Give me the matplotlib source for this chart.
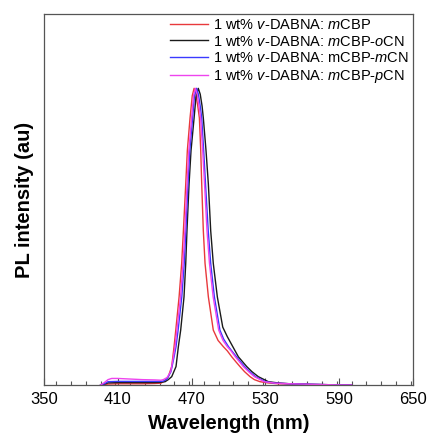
import matplotlib
matplotlib.use('Agg')
import matplotlib.pyplot as plt
from matplotlib.ticker import MultipleLocator

plt.rcParams['font.family'] = ['Liberation Sans', 'DejaVu Sans']
plt.rcParams['mathtext.fontset'] = 'custom'
plt.rcParams['mathtext.rm'] = 'Liberation Sans'
plt.rcParams['mathtext.it'] = 'Liberation Sans:italic'
plt.rcParams['mathtext.bf'] = 'Liberation Sans:bold'

# mCBP (red)
wl_mcbp = [396, 399, 402, 410, 420, 430, 440, 445, 447, 449, 451, 453.8, 455.7, 457.1,
           459.8, 461.9, 463.3, 465.2, 466.5, 468.7, 470.5, 472, 473.5, 475, 476.3,
           477.4, 478.2, 479.5, 480.9, 483.6, 487.6, 491.5, 495.8, 499, 502.6, 506,
           509.3, 513, 517.5, 521, 525.6, 532, 540, 550, 560, 570, 580, 590, 600]
pl_mcbp = [0.0, 0.001, 0.003, 0.004, 0.004, 0.004, 0.005, 0.006, 0.011, 0.018, 0.028,
           0.062, 0.129, 0.185, 0.297, 0.41, 0.52, 0.677, 0.79, 0.9, 0.975, 1.0, 0.98,
           0.94, 0.9, 0.79, 0.677, 0.52, 0.41, 0.297, 0.185, 0.15, 0.129, 0.115, 0.095,
           0.078, 0.062, 0.045, 0.028, 0.018, 0.011, 0.007, 0.004, 0.003, 0.002, 0.001,
           0.001, 0.0, 0.0]

# mCBP-oCN (black)
wl_ocn = [396, 399, 402, 410, 420, 430, 440, 445, 448.4, 451, 453.8, 457.3, 459.2,
          461.1, 463.8, 465.2, 466.2, 467.9, 469.5, 472, 473.5, 475.4, 477, 478.5,
          479.5, 481.7, 483.6, 485.5, 487.6, 490.9, 495.3, 499, 503.5, 508, 514.8,
          519, 524.2, 532.4, 540, 550, 560, 570, 580, 590, 600]
pl_ocn = [0.0, 0.003, 0.007, 0.008, 0.008, 0.008, 0.008, 0.009, 0.011, 0.018, 0.028,
          0.062, 0.129, 0.185, 0.297, 0.41, 0.52, 0.677, 0.79, 0.9, 0.97, 1.0, 0.98,
          0.94, 0.9, 0.79, 0.677, 0.52, 0.41, 0.297, 0.195, 0.163, 0.129, 0.095, 0.062,
          0.045, 0.028, 0.011, 0.007, 0.004, 0.003, 0.002, 0.001, 0.0, 0.0]

# mCBP-mCN (blue)
wl_mcn = [396, 399, 402, 410, 420, 430, 440, 445, 447, 450, 453.2, 455.5, 457.3, 459,
          462, 464, 465.3, 467, 468.5, 470.8, 472.3, 474, 475.5, 477, 478.2, 479.8,
          481.3, 483.5, 485.5, 488.5, 493, 496, 500, 503, 506.5, 513, 518, 522, 530,
          538, 550, 560, 570, 580, 590, 600]
pl_mcn = [0.0, 0.004, 0.011, 0.012, 0.012, 0.012, 0.012, 0.012, 0.013, 0.02, 0.045,
          0.09, 0.129, 0.185, 0.297, 0.41, 0.52, 0.677, 0.79, 0.9, 0.975, 1.0, 0.98,
          0.94, 0.9, 0.79, 0.677, 0.52, 0.41, 0.297, 0.185, 0.155, 0.129, 0.113, 0.095,
          0.062, 0.042, 0.028, 0.011, 0.006, 0.004, 0.003, 0.002, 0.001, 0.0, 0.0]

# mCBP-pCN (magenta)
wl_pcn = [396, 399, 402, 405, 410, 420, 430, 440, 445, 447, 450, 453, 455, 456.5, 458,
          461, 463, 464.5, 466.3, 467.7, 470, 471.5, 473, 474.5, 476, 477.3, 479,
          480.5, 482.5, 484.5, 487.5, 492, 495.5, 499, 502, 505.5, 512, 517, 521, 529,
          538, 550, 560, 570, 580, 590, 600]
pl_pcn = [0.0, 0.008, 0.018, 0.022, 0.022, 0.02, 0.018, 0.017, 0.016, 0.018, 0.025,
          0.045, 0.09, 0.129, 0.185, 0.297, 0.41, 0.52, 0.677, 0.79, 0.9, 0.975, 1.0,
          0.98, 0.94, 0.9, 0.79, 0.677, 0.52, 0.41, 0.297, 0.185, 0.15, 0.129, 0.115,
          0.095, 0.062, 0.042, 0.028, 0.011, 0.006, 0.004, 0.003, 0.002, 0.001, 0.0, 0.0]

labels = ['1 wt% $v$-DABNA: $m$CBP',
          '1 wt% $v$-DABNA: $m$CBP-$o$CN',
          '1 wt% $v$-DABNA: mCBP-$m$CN',
          '1 wt% $v$-DABNA: $m$CBP-$p$CN']
colors = ['#e8393c', '#1a1a1a', '#3a3aff', '#ee44ee']

fig = plt.figure(figsize=(4.32, 4.43), dpi=100)
ax = fig.add_axes([0.102, 0.131, 0.854, 0.837])

series = [(wl_mcbp, pl_mcbp), (wl_ocn, pl_ocn), (wl_mcn, pl_mcn), (wl_pcn, pl_pcn)]
for (x, y), lab, c in zip(series, labels, colors):
    ax.plot(x, y, color=c, lw=1.0, label=lab)

ax.set_xlim(350, 650)
ax.set_ylim(0, 1.25)
ax.set_xticks([350, 410, 470, 530, 590, 650])
ax.xaxis.set_minor_locator(MultipleLocator(12))
ax.set_yticks([])
ax.tick_params(axis='x', which='major', direction='in', length=5, width=0.8,
               labelsize=12, pad=5, colors='#555555', labelcolor='black')
ax.tick_params(axis='x', which='minor', direction='in', length=3, width=0.8,
               colors='#555555')
for s in ax.spines.values():
    s.set_color('#555555')
    s.set_linewidth(0.9)

ax.set_xlabel('Wavelength (nm)', fontsize=14.5, fontweight='bold', labelpad=5)
ax.set_ylabel('PL intensity (au)', fontsize=14.5, fontweight='bold', labelpad=7)

ax.legend(loc='upper right', bbox_to_anchor=(0.99, 0.99), frameon=False, fontsize=10.5,
          handlelength=2.6, handletextpad=0.35, labelspacing=0.18, borderpad=0.0,
          borderaxespad=0.0)

fig.savefig('out.png', dpi=100)
